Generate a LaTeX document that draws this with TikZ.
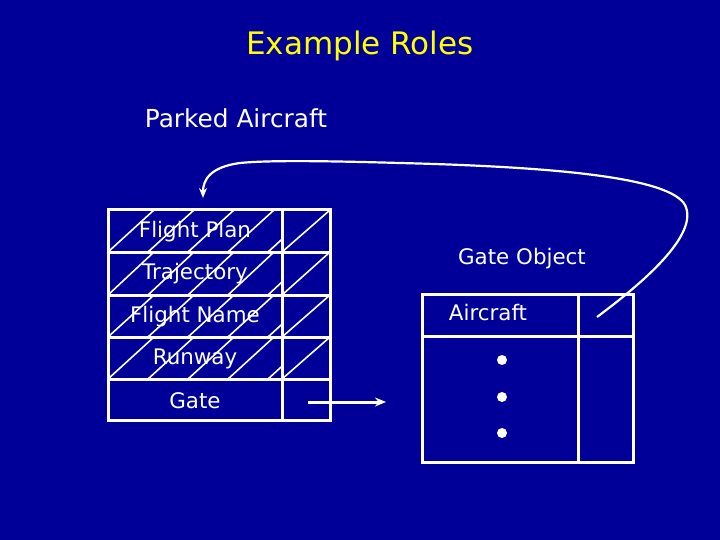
\documentclass[tikz,border=0pt]{standalone}
\usepackage{fontspec}
\setmainfont{DejaVu Sans}
\usetikzlibrary{arrows.meta}
\begin{document}
\begin{tikzpicture}[x=1pt,y=-1pt,
  ln/.style={draw=white,line width=3pt},
  sl/.style={draw=white,line width=1.6pt},
  txt/.style={text=white,font=\fontsize{21.4}{24}\selectfont,inner sep=0pt},
  dotn/.style={circle,fill=white,minimum size=10pt,inner sep=0pt}]
\fill[fill={rgb,255:red,0;green,0;blue,153}] (0,0) rectangle (720,540);
\useasboundingbox (0,0) rectangle (720,540);
\node[inner sep=0pt,text={rgb,255:red,255;green,255;blue,0},font=\fontsize{31}{34}\selectfont] (title) at (360,46) {Example Roles};
\node[txt,font=\fontsize{24.8}{28}\selectfont] (parked) at (236,118) {Parked Aircraft};
% slashes
\foreach \t/\b in {210/252,252/295,295/337,337/379}{
  \begin{scope}
  \clip (108,\t) rectangle (282,\b);
  \foreach \k in {0,...,4}{\draw[sl] (108+40*\k,\b) -- ++(46,\t-\b);}
  \end{scope}
  \draw[sl] (282,\b) -- (330,\t);
}
\draw[ln] (108,210) rectangle (330,420);
\foreach \y in {252,295,337,379}{\draw[ln] (108,\y) -- (330,\y);}
\draw[ln] (282,210) -- (282,420);
\node[txt] (fp) at (195,232) {Flight Plan};
\node[txt] (tr) at (195,274) {Trajectory};
\node[txt] (fn) at (195,317) {Flight Name};
\node[txt] (rw) at (195,359) {Runway};
\node[txt] (gt) at (195,401) {Gate};
% right table
\draw[ln] (422,294) rectangle (633,462);
\draw[ln] (422,336) -- (633,336);
\draw[ln] (578,294) -- (578,462);
\node[txt] (go) at (522,259) {Gate Object};
\node[txt] (ac) at (488,313) {Aircraft};
\node[dotn] (d1) at (502,360) {};
\node[dotn] (d2) at (502,397) {};
\node[dotn] (d3) at (502,433) {};
\coordinate (gs) at (308,402);
\coordinate (ge) at (386,402);
\draw[ln,-{Stealth[length=11pt,width=9pt]}] (gs) -- (ge);
\coordinate (cs) at (597,317);
\coordinate (ce) at (203,198);
\draw[draw=white,line width=2.2pt,-{Stealth[length=10pt,width=8pt]}] (cs) .. controls (640,285) and (700,235) .. (685,205)
  .. controls (670,178) and (560,167) .. (400,163)
  .. controls (330,161) and (270,160) .. (240,163)
  .. controls (210,167) and (203,180) .. (ce);
\end{tikzpicture}
\end{document}
